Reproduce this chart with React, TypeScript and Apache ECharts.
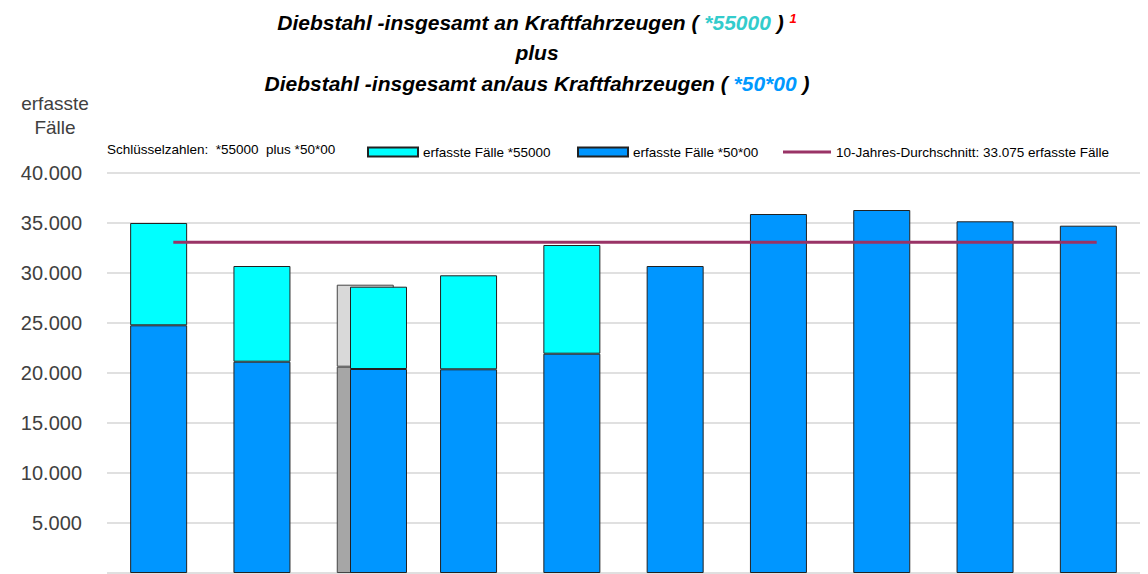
import React, { useEffect, useRef } from "react";
import * as echarts from "echarts";

const categories = ["1", "2", "3", "4", "5", "6", "7", "8", "9", "10"];
const cases5000 = [24770, 21130, 20400, 20370, 21930, 30700, 35900, 36300, 35170, 34730];
const cases55000 = [10230, 9570, 8230, 9400, 10870, null, null, null, null, null];
const shadowLower = [null, null, 20630, null, null, null, null, null, null, null];
const shadowUpper = [null, null, 8200, null, null, null, null, null, null, null];
const average = 33075;
const shiftedIndex = 2;
const yTicks = { min: 0, max: 40000, interval: 5000 };

const FONT = "'Liberation Sans', Arial, sans-serif";
const CYAN = "#00FFFF";
const BLUE = "#0096FF";
const LINE = "#993366";

export default function App() {
  const ref = useRef<HTMLDivElement>(null);
  useEffect(() => {
    document.body.style.margin = "0";
    const chart = echarts.init(ref.current!, null, { renderer: "svg" });
    const mainMask = (arr: (number | null)[], shifted: boolean) =>
      arr.map((v, i) => ((i === shiftedIndex) === shifted ? v : null));
    const barStyle = (c: string) => ({ color: c, borderColor: "#222", borderWidth: 1 });
    const gridLeft = 107;
    const gridWidth = 1033;
    const shift = 15;
    const yAxisBase = {
      type: "value",
      min: yTicks.min,
      max: yTicks.max,
      interval: yTicks.interval,
      axisLine: { show: false },
      axisTick: { show: false },
    };
    const titleFont = { fontFamily: FONT, fontSize: 21, fontWeight: "bold", fontStyle: "italic" };
    const legendText = { fontFamily: FONT, fontSize: 13.5, color: "#000" };
    chart.setOption({
      animation: false,
      grid: [
        { left: gridLeft, width: gridWidth, top: 173, bottom: 1 },
        { left: gridLeft + shift, width: gridWidth, top: 173, bottom: 1 },
      ],
      xAxis: [
        { type: "category", data: categories, gridIndex: 0, axisLine: { show: false }, axisTick: { show: false }, axisLabel: { show: false } },
        { type: "category", data: categories, gridIndex: 1, show: false },
      ],
      yAxis: [
        {
          ...yAxisBase,
          gridIndex: 0,
          splitLine: { lineStyle: { color: "#D6D6D6", width: 1.5 } },
          axisLabel: {
            fontFamily: FONT,
            fontSize: 20,
            color: "#404040",
            margin: 25,
            formatter: (v: number) => (v === 0 ? "" : v.toLocaleString("de-DE")),
          },
        },
        { ...yAxisBase, gridIndex: 1, show: false },
      ],
      legend: [
        {
          data: [{ name: "erfasste Fälle *55000", icon: "rect" }], left: 362, top: 140, itemWidth: 50, itemHeight: 9,
          textStyle: legendText, selectedMode: false,
        },
        {
          data: [{ name: "erfasste Fälle *50*00", icon: "rect" }], left: 572, top: 140, itemWidth: 50, itemHeight: 9,
          textStyle: legendText, selectedMode: false,
        },
        {
          data: [{ name: "10-Jahres-Durchschnitt: 33.075 erfasste Fälle", icon: "rect" }],
          left: 778, top: 140, itemWidth: 48, itemHeight: 3,
          textStyle: legendText, selectedMode: false,
        },
      ],
      graphic: [
        {
          type: "text", x: 537, y: 22,
          style: {
            text: "{a|Diebstahl -insgesamt an Kraftfahrzeugen ( }{c|*55000}{a| ) }{r|1}",
            align: "center", verticalAlign: "middle",
            rich: {
              a: { ...titleFont, fill: "#000" },
              c: { ...titleFont, fill: "#33CCCC" },
              r: { fontFamily: FONT, fontSize: 13, fontWeight: "bold", fontStyle: "italic", fill: "#FF0000", verticalAlign: "top" },
            },
          },
        },
        {
          type: "text", x: 537, y: 52,
          style: { text: "plus", align: "center", verticalAlign: "middle", font: `italic bold 21px ${FONT}`, fill: "#000" },
        },
        {
          type: "text", x: 537, y: 83,
          style: {
            text: "{a|Diebstahl -insgesamt an/aus Kraftfahrzeugen ( }{b|*50*00}{a| )}",
            align: "center", verticalAlign: "middle",
            rich: {
              a: { ...titleFont, fill: "#000" },
              b: { ...titleFont, fill: "#0099FF" },
            },
          },
        },
        {
          type: "text", x: 55, y: 115,
          style: { text: "erfasste\nFälle", align: "center", verticalAlign: "middle", font: `19px ${FONT}`, lineHeight: 24, fill: "#404040" },
        },
        {
          type: "text", x: 107, y: 149,
          style: { text: "Schlüsselzahlen:  *55000  plus *50*00", verticalAlign: "middle", font: `13.5px ${FONT}`, fill: "#000" },
        },
      ],
      series: [
        {
          name: "erfasste Fälle *50*00", type: "bar", stack: "m", barWidth: 57, barGap: "-100%",
          xAxisIndex: 0, yAxisIndex: 0, itemStyle: barStyle(BLUE), data: mainMask(cases5000, false),
        },
        {
          name: "erfasste Fälle *55000", type: "bar", stack: "m", barWidth: 57, barGap: "-100%",
          xAxisIndex: 0, yAxisIndex: 0, itemStyle: barStyle(CYAN), data: mainMask(cases55000, false),
        },
        {
          name: "shadowLower", type: "bar", stack: "s", barWidth: 57, barGap: "-100%",
          xAxisIndex: 0, yAxisIndex: 0, itemStyle: { color: "#A6A6A6", borderColor: "#444", borderWidth: 1 }, data: shadowLower,
        },
        {
          name: "shadowUpper", type: "bar", stack: "s", barWidth: 57, barGap: "-100%",
          xAxisIndex: 0, yAxisIndex: 0, itemStyle: { color: "#D9D9D9", borderColor: "#444", borderWidth: 1 }, data: shadowUpper,
        },
        {
          name: "erfasste Fälle *50*00", type: "bar", stack: "m2", barWidth: 57,
          xAxisIndex: 1, yAxisIndex: 1, itemStyle: barStyle(BLUE), data: mainMask(cases5000, true),
        },
        {
          name: "erfasste Fälle *55000", type: "bar", stack: "m2", barWidth: 57,
          xAxisIndex: 1, yAxisIndex: 1, itemStyle: barStyle(CYAN), data: mainMask(cases55000, true),
        },
        {
          name: "10-Jahres-Durchschnitt: 33.075 erfasste Fälle", type: "line", symbol: "none",
          xAxisIndex: 1, yAxisIndex: 1, z: 5,
          lineStyle: { color: LINE, width: 3 }, itemStyle: { color: LINE },
          data: categories.map(() => average),
        },
      ],
    });
    return () => chart.dispose();
  }, []);
  return <div ref={ref} style={{ width: 1148, height: 574 }} />;
}
